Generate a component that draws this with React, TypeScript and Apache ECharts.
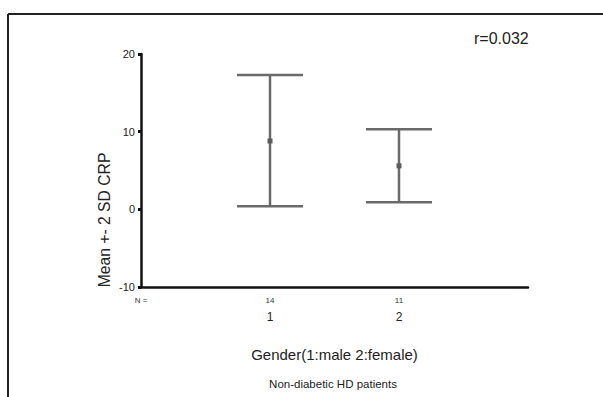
import React, { useEffect, useRef } from "react";
import * as echarts from "echarts";

// Group codes, sample sizes and Mean ± 2 SD of CRP per group
const groups = [1, 2];
const nCounts = [14, 11];
const means = [8.8, 5.6];
const lowerBounds = [0.4, 0.9];
const upperBounds = [17.3, 10.3];
const yTicks = [-10, 0, 10, 20];

const FONT = "'Liberation Sans', Arial, sans-serif";

export default function App() {
  const ref = useRef<HTMLDivElement>(null);

  useEffect(() => {
    if (!ref.current) return;
    const chart = echarts.init(ref.current, null, { renderer: "svg" });

    const barData = groups.map((g, i) => [g, lowerBounds[i], upperBounds[i], means[i]]);

    chart.setOption({
      animation: false,
      backgroundColor: "#ffffff",
      textStyle: { fontFamily: FONT },
      title: {
        text: "r=0.032",
        left: 469,
        top: 25,
        textStyle: { fontFamily: FONT, fontSize: 16, fontWeight: "normal", color: "#222" },
      },
      grid: { left: 141, right: 75, top: 54, bottom: 110 },
      xAxis: [
        {
          type: "value",
          min: 0,
          max: 3,
          interval: 1,
          position: "bottom",
          name: "Gender(1:male 2:female)",
          nameLocation: "middle",
          nameGap: 60,
          nameTextStyle: { fontFamily: FONT, fontSize: 15, color: "#222" },
          axisLine: { show: true, onZero: false, lineStyle: { color: "#111", width: 2.5 } },
          axisTick: { show: false },
          splitLine: { show: false },
          axisLabel: {
            margin: 24,
            fontSize: 12,
            color: "#222",
            fontFamily: FONT,
            formatter: (v: number) => (groups.includes(v) ? String(v) : ""),
          },
        },
        {
          type: "value",
          min: 0,
          max: 3,
          interval: 1,
          position: "bottom",
          axisLine: { show: false, onZero: false },
          axisTick: { show: false },
          splitLine: { show: false },
          axisLabel: {
            margin: 9,
            fontSize: 8,
            color: "#333",
            fontFamily: FONT,
            formatter: (v: number) => {
              if (v === 0) return "N =";
              const idx = groups.indexOf(v);
              return idx >= 0 ? String(nCounts[idx]) : "";
            },
          },
        },
      ],
      yAxis: {
        type: "value",
        min: yTicks[0],
        max: yTicks[yTicks.length - 1],
        interval: 10,
        axisLine: { show: true, lineStyle: { color: "#111", width: 2.5 } },
        axisTick: { show: true, length: 3, lineStyle: { color: "#111", width: 3 } },
        splitLine: { show: false },
        axisLabel: { margin: 6, fontSize: 11, color: "#222", fontFamily: FONT },
      },
      series: [
        {
          type: "custom",
          xAxisIndex: 0,
          yAxisIndex: 0,
          data: barData,
          encode: { x: 0, y: [1, 2, 3] },
          renderItem: (params: any, api: any) => {
            const x = api.value(0);
            const lo = api.coord([x, api.value(1)]);
            const hi = api.coord([x, api.value(2)]);
            const mid = api.coord([x, api.value(3)]);
            const half = 33;
            const stroke = { stroke: "#6a6a6a", lineWidth: 2.5 };
            return {
              type: "group",
              children: [
                { type: "line", shape: { x1: hi[0], y1: hi[1], x2: lo[0], y2: lo[1] }, style: stroke },
                { type: "line", shape: { x1: hi[0] - half, y1: hi[1], x2: hi[0] + half, y2: hi[1] }, style: stroke },
                { type: "line", shape: { x1: lo[0] - half, y1: lo[1], x2: lo[0] + half, y2: lo[1] }, style: stroke },
                { type: "rect", shape: { x: mid[0] - 2.5, y: mid[1] - 2.5, width: 5, height: 5 }, style: { fill: "#5c5c5c" } },
              ],
            };
          },
        },
      ],
      graphic: [
        { type: "line", shape: { x1: 8, y1: 14, x2: 603, y2: 14 }, style: { stroke: "#222", lineWidth: 2 } },
        { type: "line", shape: { x1: 8, y1: 14, x2: 8, y2: 397 }, style: { stroke: "#222", lineWidth: 2 } },
        {
          type: "text",
          x: 104,
          y: 220,
          rotation: Math.PI / 2,
          style: {
            text: "Mean +- 2 SD CRP",
            fontFamily: FONT,
            fontSize: 15.7,
            fill: "#222",
            align: "center",
            verticalAlign: "middle",
          },
        },
        {
          type: "text",
          x: 333,
          y: 384,
          style: {
            text: "Non-diabetic HD patients",
            fontFamily: FONT,
            fontSize: 11.5,
            fill: "#222",
            align: "center",
            verticalAlign: "middle",
          },
        },
      ],
    });

    return () => chart.dispose();
  }, []);

  return <div ref={ref} style={{ width: 603, height: 397, position: "absolute", left: 0, top: 0 }} />;
}
